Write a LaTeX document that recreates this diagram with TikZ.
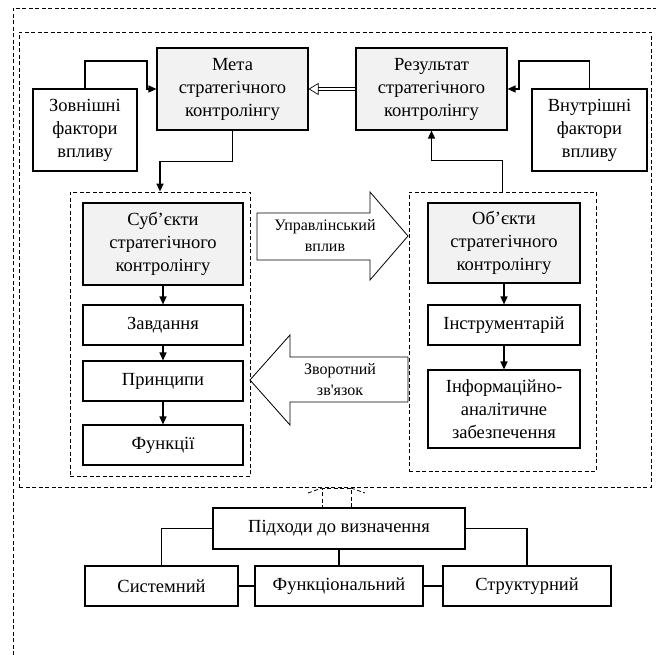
\documentclass[tikz,border=0pt]{standalone}
\usepackage{fontspec}
\setmainfont{Liberation Serif}
\usetikzlibrary{arrows.meta}
\definecolor{boxgrey}{RGB}{242,242,242}

\begin{document}
\begin{tikzpicture}[x=1pt, y=-1pt, line width=1.1pt,
	box/.style={rectangle, draw, align=center, inner sep=0pt, font=\fontsize{18.5}{23}\selectfont},
	greybox/.style={box, fill=boxgrey},
	frame/.style={draw, dash pattern=on 4pt off 2.5pt, line width=0.8pt},
	link/.style={-{Triangle[length=8pt, width=7pt]}, line width=1.4pt},
	bigarrow/.style={draw, line width=0.8pt},
	arrowtext/.style={align=center, font=\fontsize{16}{21}\selectfont}]
\newcommand{\stratk}{стратегічного\\контролінгу}
\useasboundingbox (0,0) rectangle (656,655);
\draw [frame] (13,655) |- (656,8);
\node [frame, rectangle, minimum width=632, minimum height=455] (inner) at (335,259.5) {};
\node [greybox, minimum width=151, minimum height=82] (meta) at (232.5,89) {Мета\\\stratk};
\node [greybox, minimum width=151, minimum height=82] (rez) at (431.5,89) {Результат\\\stratk};
\node [box, minimum width=104, minimum height=82] (zovn) at (85,130) {Зовнішні\\фактори\\впливу};
\node [box, minimum width=115, minimum height=82] (vnut) at (589.5,130) {Внутрішні\\фактори\\впливу};
\node [frame, rectangle, minimum width=180, minimum height=284] (left) at (160,334) {};
\node [frame, rectangle, minimum width=187, minimum height=279] (right) at (502.5,331.5) {};
\node [greybox, minimum width=160, minimum height=82] (sub) at (163,244) {Суб’єкти\\\stratk};
\node [box, minimum width=160, minimum height=40] (zav) at (163,325) {Завдання};
\node [box, minimum width=160, minimum height=40] (pryn) at (163,381) {Принципи};
\node [box, minimum width=160, minimum height=40] (funk) at (163,445) {Функції};
\node [greybox, minimum width=152, minimum height=80] (obj) at (504,243) {Об’єкти\\\stratk};
\node [box, minimum width=152, minimum height=40] (instr) at (504,325) {Інструментарій};
\node [box, minimum width=152, minimum height=78] (info) at (504,409) {Інформаційно-\\аналітичне\\забезпечення};
\node [box, minimum width=252, minimum height=41] (pidh) at (339,528.5) {Підходи до визначення};
\node [box, minimum width=153, minimum height=40] (sys) at (161.5,586) {Системний};
\node [box, minimum width=168, minimum height=40] (fun) at (339,586) {Функціональний};
\node [box, minimum width=168, minimum height=40] (str) at (527,586) {Структурний};

\draw [link] (zovn.north) |- (147,61) -- (147,89) -- (meta.west);
\draw [link] (vnut.north) |- (519,61) -- (519,89) -- (rez.east);
\draw [link] (meta.south) -- ++(0,31) -| (left.north);
\draw [link] (right.north) -- ++(0,-31) -| (rez.south);
\draw [double, double distance=2.5pt, line width=0.7pt, -{Triangle[open, length=10pt, width=12pt]}] (rez.west) -- (meta.east);
\draw [link] (sub) -- (zav);
\draw [link] (zav) -- (pryn);
\draw [link] (pryn) -- (funk);
\draw [link] (obj) -- (instr);
\draw [link] (instr) -- (info);

\draw [bigarrow] (257,213) -- (370,213) -- (370,192) -- (408,236) -- (370,280) -- (370,260) -- (257,260) -- cycle;
\node [arrowtext] (upr) at (325,236) {Управлінський\\вплив};
\draw [bigarrow] (408,357) -- (290,357) -- (290,335) -- (250,380) -- (290,425) -- (290,402) -- (408,402) -- cycle;
\node [arrowtext] (zvor) at (340,380) {Зворотний\\зв\textquotesingle язок};

\draw [frame] (322,509) -- (322,488) -- (351,488) -- (351,509);
\draw [frame] (308,493) -- (322,488) (351,488) -- (365,493);
\draw (pidh.west) -| (sys.north);
\draw (pidh.east) -| (str.north);
\draw (pidh.south) -- (fun.north);
\draw (sys.east) -- (fun.west);
\draw (fun.east) -- (str.west);
\end{tikzpicture}
\end{document}
